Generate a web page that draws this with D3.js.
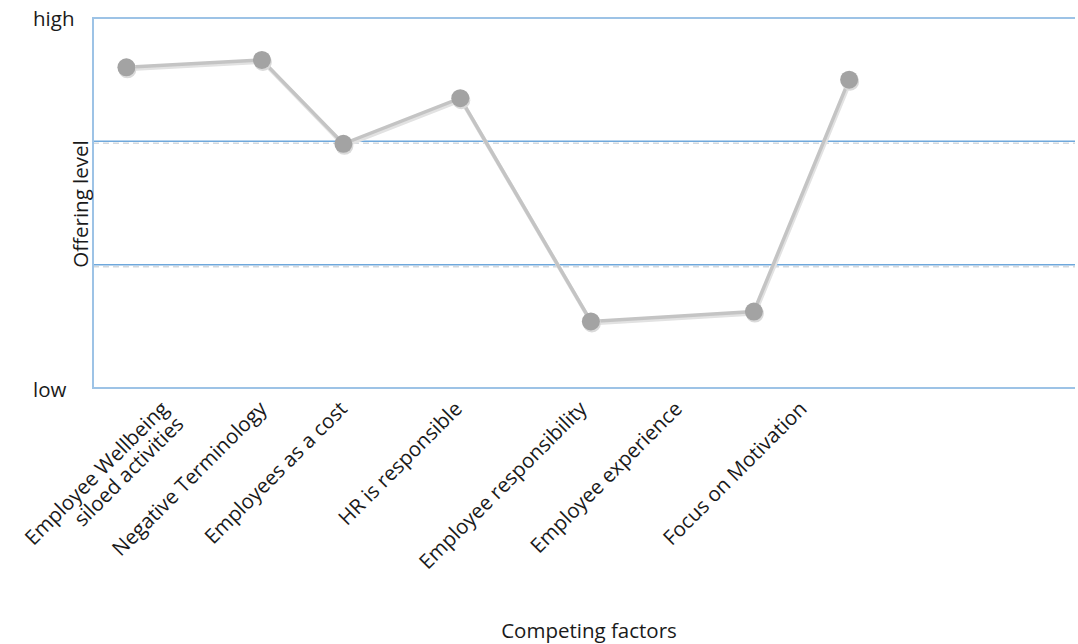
<!DOCTYPE html>
<meta charset="utf-8">
<head>
  <title>Competing factors</title>
</head>

<style>
body {
  margin: 0;
  background: #fff;
}

svg text {
  font-family: "Open Sans", Lato, sans-serif;
  font-size: 20.5px;
  fill: #1a1a1a;
}

.frame line {
  stroke: #9dc3e6;
  stroke-width: 2;
}

.grid .main {
  stroke: #6fa8dc;
  stroke-width: 1.5;
}

.grid .shade {
  stroke: #d4d9de;
  stroke-width: 1.5;
  stroke-dasharray: 6 4;
}

.series .shadow {
  fill: none;
  stroke: #e2e2e2;
  stroke-width: 4;
}

.series .line {
  fill: none;
  stroke: #c4c4c4;
  stroke-width: 3.5;
}

.dots circle {
  fill: #a3a3a3;
}

.dots .shadow {
  fill: #dadada;
}
</style>

<body>
  <svg width="1078" height="644"></svg>

  <script src="https://cdnjs.cloudflare.com/ajax/libs/d3/7.8.5/d3.min.js"></script>

  <script>
// factors along the bottom (first one is split in two lines)
var factors = [
  ['Employee Wellbeing', 'siloed activities'],
  ['Negative Terminology'],
  ['Employees as a cost'],
  ['HR is responsible'],
  ['Employee responsibility'],
  ['Employee experience'],
  ['Focus on Motivation']
];

// where each label sits on the x scale (0..10)
var labelAt = [0.73, 1.73, 2.55, 3.72, 4.99, 5.96, 7.23];

// points: x position on the same 0..10 scale, offering level 0 (low) .. 3 (high)
var pointX = [0.34, 1.72, 2.55, 3.74, 5.07, 6.73, 7.70];
var level = [2.6, 2.66, 1.98, 2.35, 0.54, 0.62, 2.5];

var gridLevels = [1, 2];
var levelNames = {0: 'low', 3: 'high'};

var svg = d3.select('svg');

var x = d3.scaleLinear().domain([0, 10]).range([93, 1075]);
var y = d3.scaleLinear().domain([0, 3]).range([388, 18]);

// gridlines: blue line with a faint dashed shade under it
var grid = svg.append('g').attr('class', 'grid');
grid.selectAll('.shade')
  .data(gridLevels)
  .enter()
  .append('line')
  .attr('class', 'shade')
  .attr('x1', x(0)).attr('x2', x(10))
  .attr('y1', function(d) { return y(d) + 2; })
  .attr('y2', function(d) { return y(d) + 2; });
grid.selectAll('.main')
  .data(gridLevels)
  .enter()
  .append('line')
  .attr('class', 'main')
  .attr('x1', x(0)).attr('x2', x(10))
  .attr('y1', function(d) { return y(d); })
  .attr('y2', function(d) { return y(d); });

// frame: top, left, bottom
var frame = svg.append('g').attr('class', 'frame');
frame.append('line').attr('x1', x(0)).attr('x2', x(10)).attr('y1', y(3)).attr('y2', y(3));
frame.append('line').attr('x1', x(0)).attr('x2', x(0)).attr('y1', y(3) - 1).attr('y2', y(0) + 1);
frame.append('line').attr('x1', x(0)).attr('x2', x(10)).attr('y1', y(0)).attr('y2', y(0));

// y axis: only high / low, left aligned
var yAxis = d3.axisLeft(y)
  .tickValues([0, 3])
  .tickSize(0)
  .tickPadding(60)
  .tickFormat(function(d) { return levelNames[d]; });

svg.append('g')
  .attr('transform', 'translate(' + x(0) + ',0)')
  .call(yAxis)
  .call(function(g) { g.select('.domain').remove(); })
  .selectAll('text')
  .attr('font-size', null)
  .attr('font-family', null)
  .attr('fill', null)
  .attr('text-anchor', 'start')
  .attr('dy', function(d) { return d === 0 ? '0.4em' : '0.35em'; });

// x labels, rotated
var labels = svg.append('g').attr('class', 'xlabels')
  .selectAll('text')
  .data(factors)
  .enter()
  .append('text')
  .attr('text-anchor', 'end')
  .attr('transform', function(d, i) {
    return 'translate(' + x(labelAt[i]) + ',405) rotate(-45)';
  });

labels.selectAll('tspan')
  .data(function(d) { return d; })
  .enter()
  .append('tspan')
  .attr('x', 0)
  .attr('dy', function(d, i) { return i === 0 ? '0.35em' : '1.05em'; })
  .text(function(d) { return d; });

// axis titles
svg.append('text')
  .attr('text-anchor', 'middle')
  .attr('x', 589)
  .attr('y', 638)
  .text('Competing factors');

svg.append('text')
  .attr('text-anchor', 'middle')
  .attr('transform', 'translate(88,204) rotate(-90)')
  .text('Offering level');

// series
var pts = pointX.map(function(d, i) { return [d, level[i]]; });
var line = d3.line()
  .x(function(d) { return x(d[0]); })
  .y(function(d) { return y(d[1]); });

var series = svg.append('g').attr('class', 'series');
series.append('path')
  .attr('class', 'shadow')
  .attr('transform', 'translate(1,2)')
  .attr('d', line(pts));
series.append('path')
  .attr('class', 'line')
  .attr('d', line(pts));

var dots = svg.append('g').attr('class', 'dots');
dots.selectAll('.shadow')
  .data(pts)
  .enter()
  .append('circle')
  .attr('class', 'shadow')
  .attr('r', 9)
  .attr('cx', function(d) { return x(d[0]) + 1; })
  .attr('cy', function(d) { return y(d[1]) + 2; });
dots.selectAll('.dot')
  .data(pts)
  .enter()
  .append('circle')
  .attr('class', 'dot')
  .attr('r', 9)
  .attr('cx', function(d) { return x(d[0]); })
  .attr('cy', function(d) { return y(d[1]); });
  </script>
</body>
</html>
